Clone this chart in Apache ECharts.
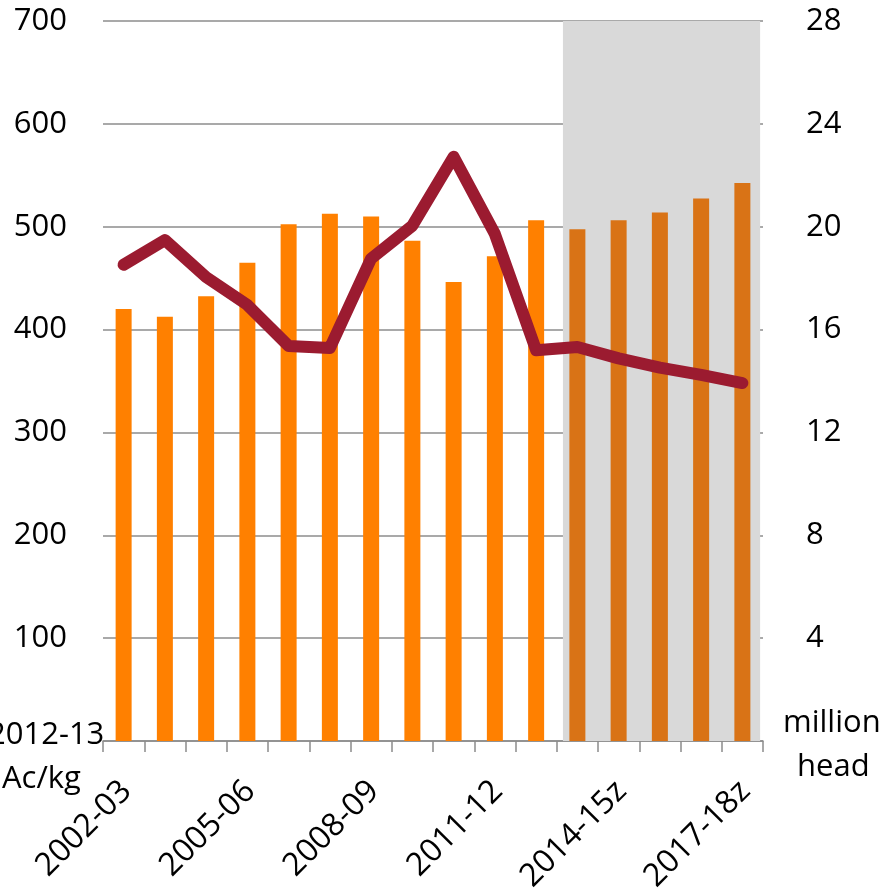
<!DOCTYPE html>
<html>
<head>
<meta charset="utf-8">
<script src="https://cdn.jsdelivr.net/npm/echarts@6/dist/echarts.min.js"></script>
<style>
  html, body { margin: 0; padding: 0; background: #fff; }
  #chart { width: 888px; height: 891px; }
</style>
</head>
<body>
<div id="chart"></div>
<script>
// years, z = forecast
var years = ['2002-03', '2003-04', '2004-05', '2005-06', '2006-07', '2007-08', '2008-09', '2009-10',
  '2010-11', '2011-12', '2012-13', '2013-14', '2014-15z', '2015-16z', '2016-17z', '2017-18z'];
// price, 2012-13 Ac/kg (left axis)
var priceValues = [463, 487, 451, 424, 384, 382, 469, 501, 568, 493, 380, 383, 372, 363, 356, 348];
// numbers, million head (right axis)
var headValues = [16.8, 16.5, 17.3, 18.6, 20.1, 20.5, 20.4, 19.45, 17.85, 18.85, 20.25, 19.9, 20.25, 20.55, 21.1, 21.7];
var leftTicks = [0, 100, 200, 300, 400, 500, 600, 700];
var rightTicks = [0, 4, 8, 12, 16, 20, 24, 28];
// forecast period shaded, in category units
var shadeRange = [10.65, 15.43];
var firstForecast = 11;

var font = '"Open Sans", sans-serif';
var barData = headValues.map(function (v, i) {
  return i >= firstForecast ? { value: v, itemStyle: { color: '#d97316' } } : v;
});

var chart = echarts.init(document.getElementById('chart'));
var option = {
  animation: false,
  grid: { left: 103, right: 125, top: 21, bottom: 150, outerBoundsMode: 'none', containLabel: false },
  xAxis: [
    {
      type: 'category',
      data: years,
      axisLine: { lineStyle: { color: '#8c8c8c', width: 1.5 } },
      axisTick: { show: true, interval: 0, length: 11, lineStyle: { color: '#8c8c8c', width: 1.5 } },
      axisLabel: {
        interval: 2,
        rotate: 45,
        margin: 48,
        padding: [0, -4, 0, 0],
        color: '#000',
        fontSize: 32,
        fontFamily: font
      }
    },
    {
      type: 'value',
      show: false,
      min: -0.5,
      max: 15.5
    }
  ],
  yAxis: [
    {
      type: 'value',
      min: leftTicks[0],
      max: leftTicks[leftTicks.length - 1],
      interval: 100,
      axisLine: { show: false },
      axisTick: { show: false },
      splitLine: { lineStyle: { color: '#8c8c8c', width: 1.5 } },
      axisLabel: {
        margin: 36,
        color: '#000',
        fontSize: 31,
        fontFamily: font,
        formatter: function (v) { return v === 0 ? '' : v; }
      }
    },
    {
      type: 'value',
      min: rightTicks[0],
      max: rightTicks[rightTicks.length - 1],
      interval: 4,
      axisLine: { show: false },
      axisTick: { show: false },
      splitLine: { show: false },
      axisLabel: {
        margin: 43,
        color: '#000',
        fontSize: 31,
        fontFamily: font,
        formatter: function (v) { return v === 0 ? '' : v; }
      }
    }
  ],
  graphic: [
    {
      type: 'text', left: -12, top: 720,
      style: { text: '2012-13', font: '31px ' + font, fill: '#000' }
    },
    {
      type: 'text', left: 2, top: 764,
      style: { text: 'Ac/kg', font: '31px ' + font, fill: '#000' }
    },
    {
      type: 'text', left: 783, top: 708,
      style: { text: 'million', font: '31px ' + font, fill: '#000' }
    },
    {
      type: 'text', left: 797, top: 752,
      style: { text: 'head', font: '31px ' + font, fill: '#000' }
    }
  ],
  series: [
    {
      name: 'forecast',
      type: 'line',
      xAxisIndex: 1,
      yAxisIndex: 0,
      data: [],
      clip: false,
      z: 1,
      markArea: {
        silent: true,
        itemStyle: { color: '#d9d9d9' },
        data: [[{ xAxis: shadeRange[0], yAxis: 0 }, { xAxis: shadeRange[1], yAxis: 705 }]]
      }
    },
    {
      name: 'million head',
      type: 'bar',
      yAxisIndex: 1,
      barWidth: 16,
      z: 2,
      itemStyle: { color: '#ff8000' },
      data: barData
    },
    {
      name: 'Ac/kg',
      type: 'line',
      yAxisIndex: 0,
      z: 3,
      symbol: 'none',
      lineStyle: { color: '#9b1b30', width: 12, cap: 'round', join: 'round' },
      data: priceValues
    }
  ]
};
chart.setOption(option);
</script>
</body>
</html>
